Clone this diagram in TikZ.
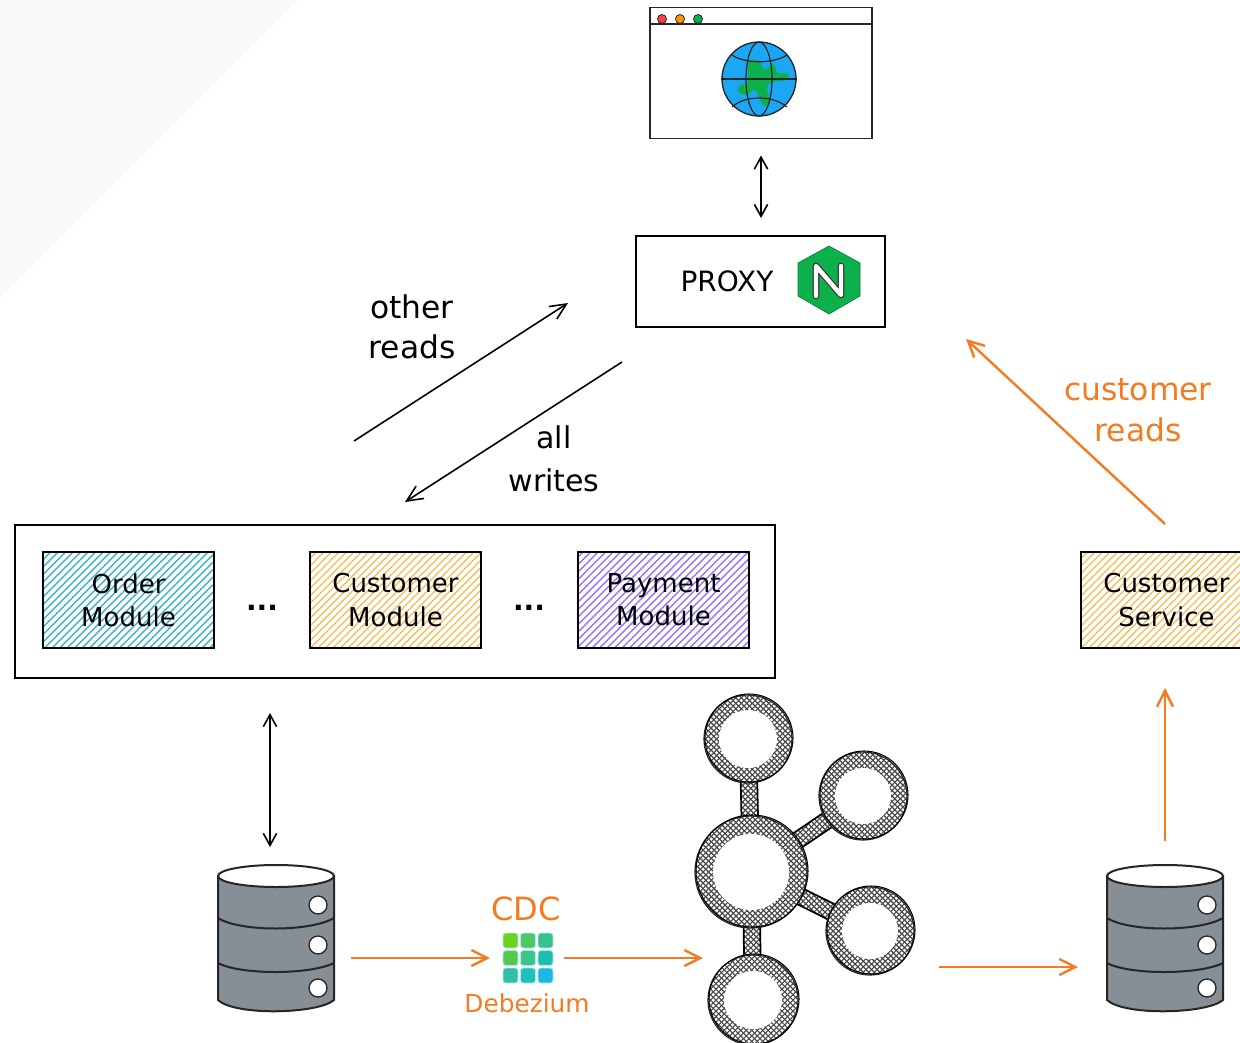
\documentclass[tikz,border=0pt]{standalone}
\usepackage{fontspec}
\setmainfont{DejaVu Sans}
\usetikzlibrary{arrows.meta,calc}
\definecolor{sketchorange}{HTML}{F47B20}
\definecolor{globeblue}{HTML}{1CA7F5}
\definecolor{logogreen}{HTML}{0DB14B}
\definecolor{dbgray}{HTML}{868E96}
\definecolor{hteal}{HTML}{3DB4C6}
\definecolor{hamber}{HTML}{F5BC4C}
\definecolor{hviolet}{HTML}{9775FA}
\definecolor{tA}{HTML}{6FD01E}\definecolor{tB}{HTML}{4CC95F}\definecolor{tC}{HTML}{38C288}
\definecolor{tD}{HTML}{57C94A}\definecolor{tE}{HTML}{3BC588}\definecolor{tF}{HTML}{1FBFAE}
\definecolor{tG}{HTML}{30C0A0}\definecolor{tH}{HTML}{1FC0B8}\definecolor{tI}{HTML}{1CB8E0}
\newcommand{\handsize}{\fontsize{19.5}{25}\selectfont}
\tikzset{
  handtext/.style={font=\handsize,align=center,inner sep=0pt},
  orangetext/.style={handtext,text=sketchorange},
  boxrect/.style={draw=black,line width=1.7*0.75pt,fill=white,inner sep=0pt,outer sep=0pt,minimum width=#1},
  hatchbox/.style={draw=black,line width=2.2*0.75pt,inner sep=0pt,outer sep=0pt,
    minimum width=171*0.75pt,minimum height=96*0.75pt,handtext,
    path picture={
      \begin{scope}[shift={(path picture bounding box.center)}]
        \foreach \d in {-330,-322.5,...,330}
          \draw[#1,line width=1.05pt] (\d-150,150) -- (\d+150,-150);
      \end{scope}}},
  kring/.style={circle,draw=black!85,line width=0.9pt,inner sep=0pt,outer sep=0pt,minimum size=#1*0.75pt,
    path picture={
      \begin{scope}[shift={(path picture bounding box.center)}]
        \foreach \d in {-125,-119.5,...,125}{
          \draw[black!72,line width=0.8pt] (\d-70,70) -- (\d+70,-70);
          \draw[black!72,line width=0.8pt] (\d-70,-70) -- (\d+70,70);}
      \end{scope}}},
  blackarrow/.style={draw=black,line width=1.6*0.75pt,{Straight Barb[length=9pt,width=10pt]}-{Straight Barb[length=9pt,width=10pt]}},
  blackone/.style={draw=black,line width=1.6*0.75pt,-{Straight Barb[length=12pt,width=11pt]}},
  orangearrow/.style={draw=sketchorange,line width=2.4*0.75pt,-{Straight Barb[length=12pt,width=12pt]}},
  ghost/.style={inner sep=0pt,outer sep=0pt,minimum width=#1},
}
\newcommand{\dbbody}{%
  \filldraw[fill=dbgray,draw=black!85,line width=1.5pt] (218,876) -- (218,1000) .. controls (235,1016) and (318,1014) .. (334,1000) -- (334,876) -- cycle;
  \filldraw[fill=white,draw=black!85,line width=1.5pt] (276,876) ellipse (58 and 11);
  \draw[black!85,line width=1.5pt] (218,918) .. controls (240,932) and (310,932) .. (334,918);
  \draw[black!85,line width=1.5pt] (218,963) .. controls (240,975) and (310,975) .. (334,963);
  \foreach \cy in {905,945,988} \filldraw[fill=white,draw=black!85,line width=1pt] (318,\cy) circle (9);
}
\newcommand{\kbar}[2]{%
  \begin{scope}
    \path[clip] ($(#1)!6.2pt!90:(#2)$) -- ($(#2)!6.2pt!-90:(#1)$) -- ($(#2)!6.2pt!90:(#1)$) -- ($(#1)!6.2pt!-90:(#2)$) -- cycle;
    \foreach \d in {-100,-94.5,...,1900}{
      \draw[black!72,line width=0.8pt] (\d,0) -- (\d-1043,1043);
      \draw[black!72,line width=0.8pt] (\d-1043,0) -- (\d,1043);}
  \end{scope}
  \draw[black,line width=1.3pt] ($(#1)!6.2pt!90:(#2)$) -- ($(#2)!6.2pt!-90:(#1)$);
  \draw[black,line width=1.3pt] ($(#1)!6.2pt!-90:(#2)$) -- ($(#2)!6.2pt!90:(#1)$);
}
\newcommand{\kdisc}[3]{% name, outer px, inner px
  \fill[white] (#1) circle (#2/2);
  \node[kring=#2] at (#1) {};
  \draw[black,line width=0.8pt] ($(#1)+(1,-1)$) circle (#2/2);
  \fill[white] (#1) circle (#3);
}
\begin{document}
\begin{tikzpicture}[x=0.75pt,y=-0.75pt]
\path[use as bounding box,clip] (0,0) rectangle (1240,1043);
\fill[white] (0,0) rectangle (1240,1043);
\fill[black!2] (0,0) -- (298,0) -- (0,298) -- cycle;

% browser
\node[boxrect=222*0.75pt,minimum height=131*0.75pt,draw=black!85,line width=0.9pt] (browser) at (761,73) {};
\draw[black!85,line width=1.1pt] (650,24) -- (872,24);
\filldraw[fill=red!75!white,draw=black!85,line width=0.6pt] (662,19) circle (4.5);
\filldraw[fill=orange!85!yellow,draw=black!85,line width=0.6pt] (680,19) circle (4.5);
\filldraw[fill=logogreen,draw=black!85,line width=0.6pt] (698,19) circle (4.5);
\node[circle,fill=globeblue,draw=black!85,line width=1pt,minimum size=74*0.75pt,inner sep=0pt] (globe) at (759,79) {};
\fill[logogreen] plot[smooth cycle,tension=0.5] coordinates {(748,63) (758,60) (765,70) (773,63) (778,73) (788,73) (787,80) (773,82) (767,87) (770,103) (763,105) (755,90) (747,95) (738,92) (740,85) (748,82)};
\draw[black!85,line width=0.9pt] (globe.center) ellipse (13 and 37);
\draw[black!85,line width=0.9pt] (globe.west) -- (globe.east);
\draw[black!85,line width=0.9pt] (732,55) .. controls (745,64) and (773,64) .. (787,55);
\draw[black!85,line width=0.9pt] (732,107) .. controls (745,95) and (773,95) .. (787,107);

% proxy
\node[boxrect=249*0.75pt,minimum height=91*0.75pt] (proxy) at (760.5,281.5) {};
\node[handtext,font=\fontsize{21}{25}\selectfont] (proxylabel) at (727,281) {PROXY};
\filldraw[fill=logogreen,draw=logogreen!70!black,line width=0.5pt] (829,246) -- (860,263) -- (860,296) -- (829,314) -- (798,296) -- (798,263) -- cycle;
\draw[black!80,line width=5pt,line join=round,line cap=round] (816,296) -- (816,266) -- (841,295) -- (841,266);
\draw[white,line width=3.3pt,line join=round,line cap=round] (816,296) -- (816,266) -- (841,295) -- (841,266);

\draw[blackarrow,shorten <=17*0.75pt,shorten >=18*0.75pt] (browser.south) -- (browser.south |- proxy.north);

% monolith
\node[boxrect=760*0.75pt,minimum height=153*0.75pt] (monolith) at (395,601.5) {};
\node[hatchbox=hteal] (order) at (128.5,600) {Order\\Module};
\node[hatchbox=hamber] (customer) at (395.5,600) {Customer\\Module};
\node[hatchbox=hviolet] (payment) at (663.5,600) {Payment\\Module};
\node[font=\fontsize{21}{25}\bfseries\selectfont,inner sep=0pt,anchor=base] (dotsa) at (262,610) {...};
\node[font=\fontsize{21}{25}\bfseries\selectfont,inner sep=0pt,anchor=base] (dotsb) at (529,610) {...};
\node[hatchbox=hamber] (service) at (1166.5,600) {Customer\\Service};

% diagonal connectors
\coordinate (orfrom) at (354,441);
\coordinate (orto) at (568,303);
\coordinate (awfrom) at (622,362);
\coordinate (awto) at (405,502);
\coordinate (crfrom) at (1165,524);
\coordinate (crto) at (966,339);
\draw[blackone] (orfrom) -- (orto);
\draw[blackone] (awfrom) -- (awto);
\draw[orangearrow] (crfrom) -- (crto);
\node[handtext,font=\fontsize{23.5}{30}\selectfont] (otherreads) at (412,327) {other\\reads};
\node[handtext,font=\fontsize{22.5}{32}\selectfont] (allwrites) at (554,459) {all\\writes};
\node[orangetext,font=\fontsize{23.5}{31}\selectfont] (custreads) at (1138,410) {customer\\reads};

% databases
\node[ghost=116*0.75pt,minimum height=148*0.75pt] (dba) at (276,938) {};
\node[ghost=116*0.75pt,minimum height=148*0.75pt] (dbb) at (1165,938) {};
\dbbody
\begin{scope}[shift={(889,0)}]\dbbody\end{scope}

\draw[blackarrow,shorten <=35*0.75pt,shorten >=17*0.75pt] ([xshift=-4.5pt]dba.north |- monolith.south) -- ([xshift=-4.5pt]dba.north);

% debezium
\node[ghost=50*0.75pt,minimum height=50*0.75pt] (debez) at (528,958) {};
\foreach \i/\j/\c in {0/0/tA,1/0/tB,2/0/tC,0/1/tD,1/1/tE,2/1/tF,0/2/tG,1/2/tH,2/2/tI}
  \filldraw[fill=\c,draw=cyan!30,line width=0.7pt,rounded corners=2pt] ($(debez.center)+(-7.5+17.5*\i-17.5,-7.5+17.5*\j-17.5)$) rectangle +(15,15);
\node[orangetext,font=\fontsize{24}{25}\selectfont] (cdc) at (526,909) {CDC};
\node[orangetext,font=\fontsize{18.6}{25}\selectfont] (debezlabel) at (527,1003) {Debezium};

% kafka
\coordinate (k0) at (751,872);
\coordinate (k1) at (748,739);
\coordinate (k2) at (863,796);
\coordinate (k3) at (870,931);
\coordinate (k4) at (753,1000);
\kbar{k0}{k1}\kbar{k0}{k2}\kbar{k0}{k3}\kbar{k0}{k4}
\kdisc{k1}{88}{29}
\kdisc{k2}{88}{28}
\kdisc{k3}{88}{28}
\kdisc{k4}{90}{29}
\kdisc{k0}{112}{38}

% orange connectors
\draw[orangearrow,shorten <=17*0.75pt,shorten >=13*0.75pt] (dba.east |- debez.west) -- (debez.west);
\coordinate (kin) at (708,958);
\draw[orangearrow,shorten >=5*0.75pt] (debez.east) ++(11,0) -- (kin);
\coordinate (kout) at (939,967);
\draw[orangearrow,shorten >=29*0.75pt] (kout) -- (kout -| dbb.west);
\draw[orangearrow,shorten <=23*0.75pt,shorten >=40*0.75pt] (dbb.north) -- (dbb.north |- service.south);
\end{tikzpicture}
\end{document}
